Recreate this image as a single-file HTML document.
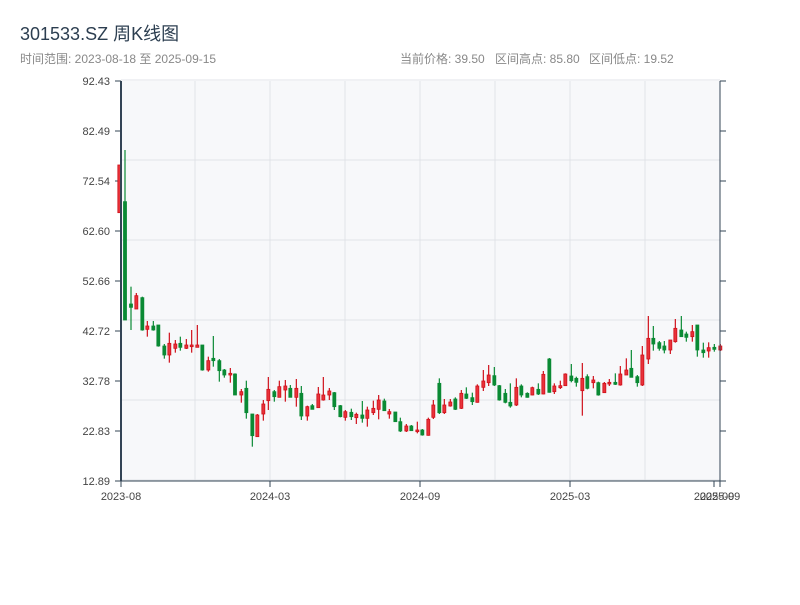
<!DOCTYPE html>
<html><head><meta charset="utf-8"><style>
body{margin:0;background:#fff;width:800px;height:600px;overflow:hidden;font-family:"Liberation Sans","Noto Sans CJK SC",sans-serif}
</style></head><body>
<svg id="s" width="800" height="600" xmlns="http://www.w3.org/2000/svg" font-family="Liberation Sans, Noto Sans CJK SC, sans-serif">
<text x="20" y="40" font-size="18" fill="#2c3e50">301533.SZ 周K线图</text>
<text x="20" y="63" font-size="12" fill="#888">时间范围: 2023-08-18 至 2025-09-15</text>
<text x="400" y="63" font-size="12" fill="#888">当前价格: 39.50</text>
<text x="495" y="63" font-size="12" fill="#888">区间高点: 85.80</text>
<text x="589" y="63" font-size="12" fill="#888">区间低点: 19.52</text>
<rect x="121" y="81" width="599" height="400" fill="#f7f8fa"/>
<g id="g"></g>
</svg>
<script>
var s=document.getElementById('g'),h='';
for(var y=80;y<=480;y+=80)h+='<line x1="121" x2="720" y1="'+y+'" y2="'+y+'" stroke="#e0e3e8" stroke-width="1"/>';
for(var x=195;x<=720;x+=75)h+='<line x1="'+x+'" x2="'+x+'" y1="81" y2="481" stroke="#e0e3e8" stroke-width="1"/>';
var labs=['92.43','82.49','72.54','62.60','52.66','42.72','32.78','22.83','12.89'];
for(var i=0;i<9;i++){var yy=81+i*50;h+='<line x1="115" x2="121" y1="'+yy+'" y2="'+yy+'" stroke="#334455"/><line x1="720" x2="726" y1="'+yy+'" y2="'+yy+'" stroke="#334455"/><text x="110" y="'+(yy+4)+'" font-size="11" fill="#444" text-anchor="end">'+labs[i]+'</text>';}
var xl=[[121,'2023-08'],[270,'2024-03'],[420,'2024-09'],[570,'2025-03'],[714,'2025-09'],[720,'2025-09']];
xl.forEach(function(a){h+='<line x1="'+a[0]+'" x2="'+a[0]+'" y1="481" y2="487" stroke="#334455"/><text x="'+a[0]+'" y="500" font-size="11" fill="#444" text-anchor="middle">'+a[1]+'</text>';});
var z1=[[28,'r',75,218,75,218],[45,'g',185,540,30,540],[63,'g',492,502,440,570],[79,'r',467,507,459,507],[97,'g',473,570,470,572],[112,'r',558,568,543,590],[130,'g',558,570,543,572],[145,'g',555,618,555,620],[163,'g',618,645,612,656],[178,'r',610,645,578,668],[196,'r',612,625,600,638],[211,'g',610,622,590,632],[229,'r',615,625,597,627],[245,'r',615,620,570,638],[262,'r',615,622,555,622],[277,'g',615,690,615,692],[295,'r',662,690,650,695],[310,'g',655,662,588,680],[328,'g',662,692,657,725],[343,'g',690,705,687,713],[361,'r',700,705,684,728],[375,'g',702,765,700,765],[394,'r',755,765,747,788],[409,'g',745,818,722,836],[427,'g',822,887,822,920],[442,'r',825,890,822,890],[460,'r',792,822,780,842],[475,'r',748,782,711,810],[493,'g',755,770,750,785],[508,'r',740,772,722,772],[526,'r',738,750,720,785],[541,'g',745,772,735,772],[559,'r',745,772,717,800],[574,'g',760,828,738,840],[592,'r',800,828,797,842],[607,'g',797,808,792,808],[625,'r',762,803,741,803],[640,'r',765,780,711,782],[658,'r',753,765,744,780],[673,'g',758,800,756,810],[691,'g',797,830,795,832],[706,'r',815,832,810,842],[724,'g',817,830,806,840],[739,'r',823,833,818,852],[757,'g',825,835,783,848],[772,'r',810,835,800,860],[790,'r',805,818,782,825],[806,'r',780,808,765,838],[823,'g',783,812,776,812],[838,'r',815,822,807,836],[856,'g',816,845,816,845],[871,'g',845,873,833,876],[889,'r',858,873,852,876],[904,'g',858,872,855,872],[922,'r',870,875,845,880],[937,'g',870,885,867,887]];
var z2=[[25,'r',418,466,413,467],[40,'r',375,412,360,417],[58,'g',310,398,295,402],[73,'r',375,398,357,402],[91,'r',366,378,357,380],[106,'g',357,388,352,390],[124,'r',340,385,330,387],[139,'g',342,355,322,357],[157,'g',353,365,338,375],[172,'r',318,367,313,368],[190,'r',303,322,270,333],[206,'r',285,308,255,318],[223,'g',287,315,261,318],[238,'g',317,360,315,362],[256,'g',340,367,327,370],[271,'g',367,378,310,383],[289,'r',322,375,295,378],[304,'g',318,345,313,352],[322,'g',340,352,337,353],[337,'r',323,345,320,346],[355,'g',328,342,310,345],[370,'r',283,342,273,343],[388,'g',237,337,234,338],[403,'r',318,335,310,342],[421,'r',317,323,302,327],[436,'r',282,317,280,318],[454,'g',288,302,252,307],[469,'g',295,307,290,320],[487,'r',295,332,249,407],[502,'g',290,325,283,328],[520,'r',300,308,288,325],[535,'g',308,345,305,347],[553,'r',310,338,306,338],[568,'r',307,312,297,318],[586,'g',307,313,280,315],[601,'r',282,315,258,317],[619,'r',270,285,235,285],[634,'g',265,292,210,292],[652,'g',290,308,285,320],[667,'r',225,315,198,318],[685,'r',175,237,108,252],[700,'g',175,192,138,212],[718,'g',188,205,183,212],[733,'g',198,210,183,220],[751,'r',180,210,180,222],[766,'r',145,185,117,188],[784,'g',150,170,108,170],[799,'g',162,172,155,185],[817,'r',155,170,135,185],[832,'g',135,210,135,230],[850,'g',210,218,188,233],[866,'r',203,213,187,233],[883,'g',202,208,192,215],[901,'r',198,210,192,213]];
function draw(c,ox,oy){var x=ox+c[0]/3,bt=oy+c[2]/3,bb=oy+c[3]/3,wt=oy+c[4]/3,wb=oy+c[5]/3;
var col=c[1]=='r'?'#d0101a':'#0a8a34';
h+='<line x1="'+x+'" x2="'+x+'" y1="'+wt+'" y2="'+wb+'" stroke="'+col+'" stroke-width="1.2"/>';
h+='<rect x="'+(x-1.5)+'" y="'+bt+'" width="3" height="'+Math.max(1,bb-bt)+'" fill="'+(c[1]=='r'?'#e8323a':col)+'" stroke="'+col+'" stroke-width="0.8"/>';}
z1.forEach(function(c){draw(c,110,140)});z2.forEach(function(c){draw(c,420,280)});
h+='<line x1="121" x2="121" y1="81" y2="481" stroke="#334455" stroke-width="2"/><line x1="720" x2="720" y1="81" y2="481" stroke="#334455" stroke-width="1"/><line x1="121" x2="720" y1="481" y2="481" stroke="#334455" stroke-width="1"/>';
s.innerHTML=h;
</script>
</body></html>
